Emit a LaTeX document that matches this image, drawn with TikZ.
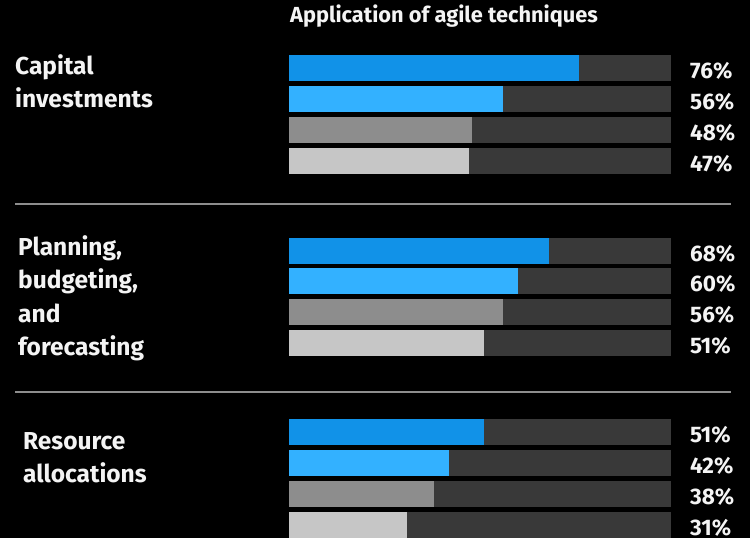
\documentclass[tikz,border=0pt]{standalone}
\usepackage{fontspec}
\setmainfont{Fira Sans}
\definecolor{bgc}{HTML}{000000}
\definecolor{bluea}{HTML}{1192E8}
\definecolor{blueb}{HTML}{33B1FF}
\definecolor{graya}{HTML}{8D8D8D}
\definecolor{grayb}{HTML}{C6C6C6}
\definecolor{track}{HTML}{393939}
\definecolor{rulec}{HTML}{8D8D8D}
\definecolor{txt}{HTML}{F4F4F4}
\tikzset{
  cat/.style={anchor=base west, inner sep=0pt, text=txt, font=\fontsize{24.5}{29}\selectfont\bfseries},
  pct/.style={anchor=base west, inner sep=0pt, text=txt, font=\fontsize{22.5}{26}\selectfont\bfseries},
  ttl/.style={anchor=base west, inner sep=0pt, text=txt, font=\fontsize{21.8}{25}\selectfont\bfseries},
  seprule/.style={draw=rulec, line width=1.3pt},
}
\newcommand{\barrow}[4]{% top y, value, colour, name
  \fill[track] (289,#1) rectangle (671,#1+26);
  \fill[#3] (289,#1) rectangle ({289+3.82*#2},#1+26);
  \node[pct] (#4) at (690,#1+23.5) {#2\%};
}
\begin{document}
\begin{tikzpicture}[x=1pt,y=-1pt]
\useasboundingbox (0,0) rectangle (750,538);
\fill[bgc] (0,0) rectangle (750,538);
\node[ttl] (title) at (290,23) {Application of agile techniques};
% group 1
\node[cat] (c1a) at (15,74) {Capital};
\node[cat] (c1b) at (15,107) {investments};
\barrow{55}{76}{bluea}{p11}
\barrow{86}{56}{blueb}{p12}
\barrow{117}{48}{graya}{p13}
\barrow{148}{47}{grayb}{p14}
% separator
\coordinate (s1a) at (15,204);
\coordinate (s1b) at (731,204);
\draw[seprule] (s1a) -- (s1b);
% group 2
\node[cat] (c2a) at (18,255) {Planning,};
\node[cat] (c2b) at (18,288.5) {budgeting,};
\node[cat] (c2c) at (18,322) {and};
\node[cat] (c2d) at (18,355.5) {forecasting};
\barrow{238}{68}{bluea}{p21}
\barrow{268}{60}{blueb}{p22}
\barrow{299}{56}{graya}{p23}
\barrow{330}{51}{grayb}{p24}
% separator
\coordinate (s2a) at (15,392);
\coordinate (s2b) at (731,392);
\draw[seprule] (s2a) -- (s2b);
% group 3
\node[cat] (c3a) at (23,449) {Resource};
\node[cat] (c3b) at (23,482) {allocations};
\barrow{419}{51}{bluea}{p31}
\barrow{450}{42}{blueb}{p32}
\barrow{481}{38}{graya}{p33}
\barrow{512}{31}{grayb}{p34}
\end{tikzpicture}
\end{document}
